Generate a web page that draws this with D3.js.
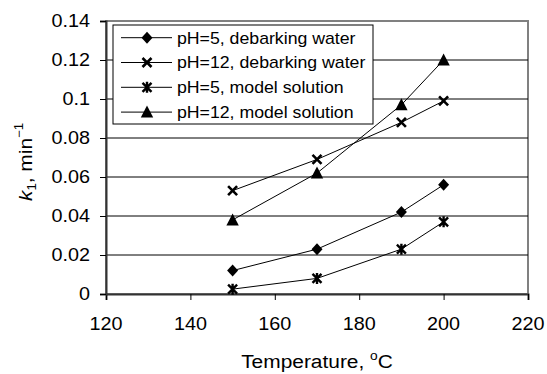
<!DOCTYPE html>
<html><head><meta charset="utf-8">
<script src="https://cdn.jsdelivr.net/npm/d3@7"></script>
<style>body{margin:0;background:#fff}svg{display:block}text{font-family:"Liberation Sans",Arial,sans-serif;fill:#000}</style>
</head><body><svg id="c" width="547" height="374"></svg>
<script>
const temps = [150, 170, 190, 200];
const ph5Debark = [0.012, 0.023, 0.042, 0.056];
const ph12Debark = [0.053, 0.069, 0.088, 0.099];
const ph5Model = [0.0025, 0.008, 0.023, 0.037];
const ph12Model = [0.038, 0.062, 0.097, 0.12];
const seriesNames = ["pH=5, debarking water", "pH=12, debarking water", "pH=5, model solution", "pH=12, model solution"];
const seriesMarkers = ["diamond", "cross", "asterisk", "triangle"];
const xTicks = [120, 140, 160, 180, 200, 220];
const yTicks = [0, 0.02, 0.04, 0.06, 0.08, 0.1, 0.12, 0.14];

const svg = d3.select("#c");
const L = 106, R = 528, T = 21, B = 294;
const x = d3.scaleLinear().domain([120, 220]).range([L, R]);
const y = d3.scaleLinear().domain([0, 0.14]).range([B, T]);
const SX = 1.1;

function txt(g, s, px, py, size, anchor) {
  const t = g.append("text").attr("transform", `translate(${px},${py}) scale(${SX},1)`)
    .attr("font-size", size).attr("text-anchor", anchor || "start");
  if (s !== null) t.text(s);
  return t;
}

svg.append("rect").attr("x", L).attr("y", T).attr("width", R - L).attr("height", B - T)
  .attr("fill", "none").attr("stroke", "#808080").attr("stroke-width", 2);

svg.append("g").selectAll("line").data(yTicks.filter(v => v > 0 && v < 0.14)).join("line")
  .attr("x1", L).attr("x2", R).attr("y1", d => y(d)).attr("y2", d => y(d))
  .attr("stroke", "#000").attr("stroke-width", 1);

const xAxis = svg.append("g").attr("transform", `translate(0,${B})`)
  .call(d3.axisBottom(x).tickValues(xTicks).tickSize(6).tickFormat(""));
const yAxis = svg.append("g").attr("transform", `translate(${L},0)`)
  .call(d3.axisLeft(y).tickValues(yTicks).tickSize(6).tickFormat(""));
[xAxis, yAxis].forEach(a => {
  a.select(".domain").attr("stroke", "#333").attr("stroke-width", 2);
  a.selectAll(".tick line").attr("stroke", "#000").attr("stroke-width", 1);
});
xTicks.forEach(v => txt(svg, String(v), x(v), 329.5, 18, "middle"));
yTicks.forEach(v => txt(svg, String(v), 90, y(v) + 6.3, 18, "end"));

const xt = txt(svg, null, 317, 368, 19, "middle");
xt.append("tspan").text("Temperature, ");
xt.append("tspan").attr("font-size", 12.5).attr("dy", -8).text("o");
xt.append("tspan").attr("dy", 8).text("C");

const yt = svg.append("text").attr("transform", `translate(32,162) rotate(-90) scale(${SX},1)`)
  .attr("font-size", 19).attr("text-anchor", "middle");
yt.append("tspan").attr("font-style", "italic").text("k");
yt.append("tspan").attr("font-size", 12).attr("dy", 4).text("1");
yt.append("tspan").attr("dy", -4).text(", min");
yt.append("tspan").attr("font-size", 12).attr("dy", -9).text("−1");

function marker(g, type, cx, cy) {
  if (type === "diamond") {
    g.append("path").attr("d", `M${cx},${cy - 6}L${cx + 5.5},${cy}L${cx},${cy + 6}L${cx - 5.5},${cy}Z`).attr("fill", "#000");
  } else if (type === "triangle") {
    g.append("path").attr("d", `M${cx},${cy - 6.5}L${cx + 6.2},${cy + 5.5}L${cx - 6.2},${cy + 5.5}Z`).attr("fill", "#000");
  } else if (type === "cross") {
    g.append("path").attr("d", `M${cx - 4.5},${cy - 4.5}L${cx + 4.5},${cy + 4.5}M${cx - 4.5},${cy + 4.5}L${cx + 4.5},${cy - 4.5}`)
      .attr("stroke", "#000").attr("stroke-width", 2.6).attr("fill", "none");
  } else if (type === "asterisk") {
    g.append("path").attr("d", `M${cx - 4.5},${cy - 4.5}L${cx + 4.5},${cy + 4.5}M${cx - 4.5},${cy + 4.5}L${cx + 4.5},${cy - 4.5}M${cx},${cy - 5.5}L${cx},${cy + 5.5}`)
      .attr("stroke", "#000").attr("stroke-width", 2.4).attr("fill", "none");
  }
}

const allSeries = [ph5Debark, ph12Debark, ph5Model, ph12Model];
const line = d3.line().x(d => x(d[0])).y(d => y(d[1]));
const gData = svg.append("g");
allSeries.forEach((vals) => {
  const pts = temps.map((t, j) => [t, vals[j]]);
  gData.append("path").attr("d", line(pts)).attr("fill", "none").attr("stroke", "#000").attr("stroke-width", 1);
});
allSeries.forEach((vals, i) => {
  temps.forEach((t, j) => marker(gData, seriesMarkers[i], x(t), y(vals[j])));
});

const lg = svg.append("g");
lg.append("rect").attr("x", 113).attr("y", 25).attr("width", 260).attr("height", 99)
  .attr("fill", "#fff").attr("stroke", "#000").attr("stroke-width", 1);
seriesNames.forEach((name, i) => {
  const cy = 37.7 + i * 24.8;
  lg.append("line").attr("x1", 121).attr("x2", 172).attr("y1", cy).attr("y2", cy).attr("stroke", "#000").attr("stroke-width", 1);
  marker(lg, seriesMarkers[i], 147, cy);
  txt(lg, name, 177, cy + 5.8, 16.1, "start");
});
</script></body></html>
